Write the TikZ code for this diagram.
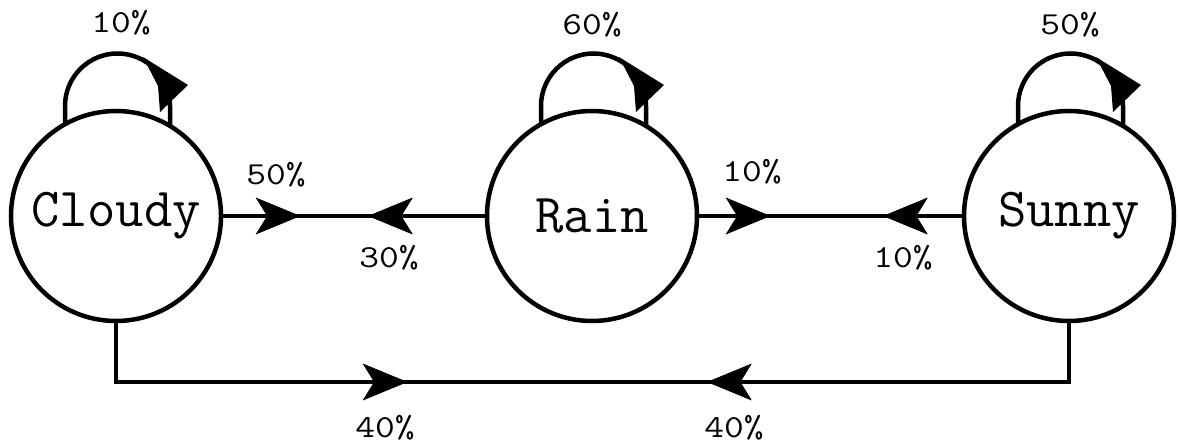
\documentclass[tikz,border=0pt]{standalone}
\usepackage{fontspec}
\usetikzlibrary{arrows.meta,decorations.markings,calc}
\tikzset{
  state/.style={circle,draw,line width=4.5pt,minimum size=210pt,inner sep=0pt,
    font=\fontsize{55}{60}\selectfont\ttfamily},
  pct/.style={inner sep=0pt,xscale=1.2,font=\fontsize{32}{36}\selectfont\ttfamily},
  conn/.style={line width=4.5pt},
  fwd/.style={postaction={decorate},decoration={markings,
    mark=at position #1 with {\arrow{Stealth[length=44pt,width=36pt,inset=11pt]}}}},
  bwd/.style={postaction={decorate},decoration={markings,
    mark=at position #1 with {\arrowreversed{Stealth[length=44pt,width=36pt,inset=11pt]}}}},
}
\begin{document}
\begin{tikzpicture}[x=1pt,y=1pt]
\useasboundingbox[fill=white] (0,0) rectangle (1179,-444);
% states
\node[state] (cl) at (116,-216) {Cloudy};
\node[state] (ra) at (592,-216) {Rain};
\node[state] (su) at (1069,-216) {Sunny};
\coordinate (bot) at (0,-382);
% horizontal connectors
\draw[conn,fwd=77pt,bwd=145pt] (cl.east) -- (ra.west);
\draw[conn,fwd=71pt,bwd=184pt] (ra.east) -- (su.west);
\draw[conn,fwd=350pt,bwd=650pt] (cl.south) -- (cl.south |- bot) -- (su.south |- bot) -- (su.south);
% self loops
\foreach \n in {cl,ra,su}{
  \draw[conn] ($(\n.center)+(-51,93)$) -- ($(\n.center)+(-51,110)$)
     arc[start angle=180,end angle=0,radius=52.5] -- ($(\n.center)+(54,91)$);
  \fill ($(\n.center)+(72,131)$) -- ($(\n.center)+(27,159)$) -- ($(\n.center)+(42,130)$)
     -- ($(\n.center)+(44,104)$) -- cycle;
}
% labels
\node[pct] (lcc) at (121,-23) {10\%};
\node[pct] (lrr) at (592,-25) {60\%};
\node[pct] (lss) at (1070,-25) {50\%};
\node[pct] (lcr) at (276,-175) {50\%};
\node[pct] (lrc) at (389,-258) {30\%};
\node[pct] (lrs) at (752,-172) {10\%};
\node[pct] (lsr) at (903,-258) {10\%};
\node[pct] (lcs) at (385,-428) {40\%};
\node[pct] (lsc) at (734,-428) {40\%};
\end{tikzpicture}
\end{document}
